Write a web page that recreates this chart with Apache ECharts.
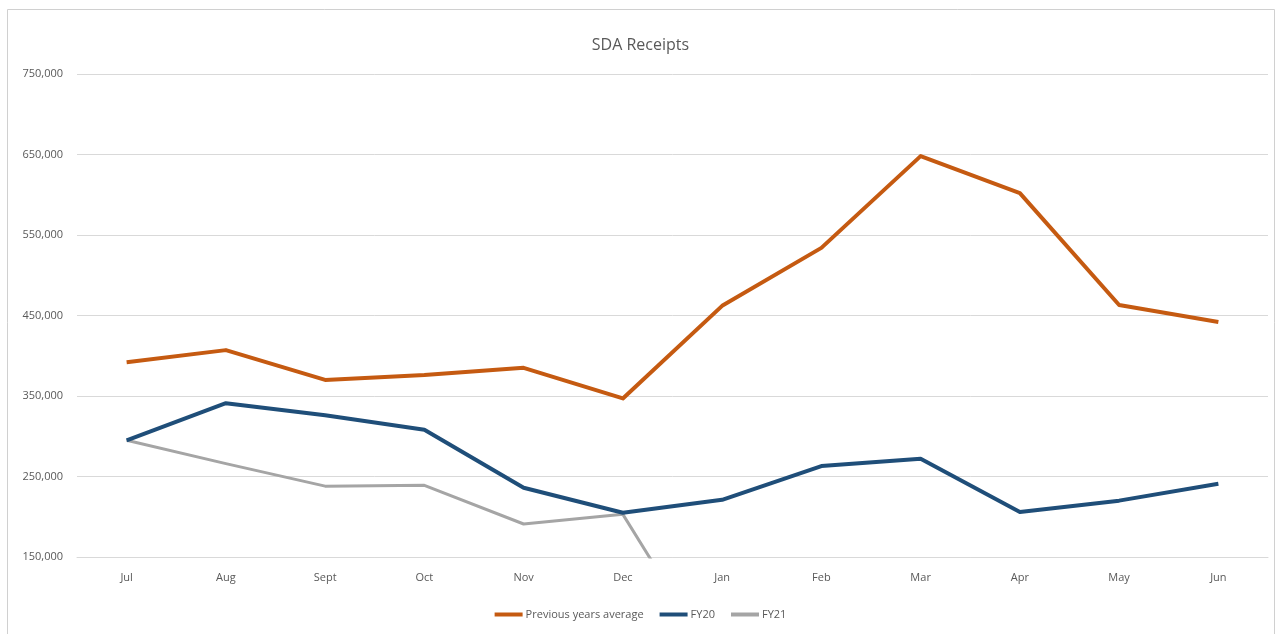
<!DOCTYPE html>
<html>
<head>
<meta charset="utf-8">
<title>SDA Receipts</title>
<script src="https://cdn.jsdelivr.net/npm/echarts@6/dist/echarts.min.js"></script>
<style>
  html, body { margin: 0; padding: 0; background: #fff; }
  #chart { width: 1281px; height: 634px; }
</style>
</head>
<body>
<div id="chart"></div>
<script>
const months = ['Jul', 'Aug', 'Sept', 'Oct', 'Nov', 'Dec', 'Jan', 'Feb', 'Mar', 'Apr', 'May', 'Jun']
const prevAvg = [392000, 407000, 370000, 376000, 385000, 347000, 462000, 534000, 648000, 602000, 463000, 442000]
const fy20 = [295000, 341000, 326000, 308000, 236000, 205000, 221000, 263000, 272000, 206000, 220000, 241000]
// FY21 only runs to Jan, and Jan drops below the axis floor
const fy21 = [295000, 266000, 238000, 239000, 191000, 203000, 4000, null, null, null, null, null]
const seriesNames = ['Previous years average', 'FY20', 'FY21']
const colorList = ['#c55a11', '#1f4e79', '#a5a5a5']

const textColor = '#595959'
const font = 'Open Sans'

const chart = echarts.init(document.getElementById('chart'))

function lineSeries(name, data, index, width) {
  return {
    name: name,
    type: 'line',
    data: data,
    symbol: 'none',
    clip: true,
    connectNulls: false,
    lineStyle: { width: width, color: colorList[index], join: 'round' },
    itemStyle: { color: colorList[index] },
    z: 3 - index
  }
}

chart.setOption({
  backgroundColor: '#fff',
  animation: false,
  color: colorList,
  title: {
    text: 'SDA Receipts',
    left: 'center',
    top: 32,
    textStyle: { color: textColor, fontSize: 16, fontWeight: 'normal', fontFamily: font }
  },
  graphic: [{
    type: 'rect',
    shape: { x: 7.5, y: 9.5, width: 1267, height: 640 },
    style: { fill: 'none', stroke: '#d0d0d0', lineWidth: 1 },
    silent: true
  }],
  legend: {
    bottom: 9,
    left: 'center',
    itemWidth: 28,
    itemHeight: 4,
    itemGap: 16,
    icon: 'rect',
    textStyle: { color: textColor, fontSize: 11, fontFamily: font, padding: [0, 0, 0, -2] },
    data: seriesNames
  },
  grid: {
    left: 77,
    right: 13,
    top: 74,
    bottom: 77,
    containLabel: false
  },
  xAxis: {
    type: 'category',
    data: months,
    boundaryGap: true,
    axisLine: { show: true, lineStyle: { color: '#d9d9d9', width: 1 } },
    axisTick: { show: false },
    axisLabel: { color: textColor, fontSize: 11, fontFamily: font, margin: 15, interval: 0 },
    splitLine: { show: false }
  },
  yAxis: {
    type: 'value',
    min: 150000,
    max: 750000,
    interval: 100000,
    axisLine: { show: false },
    axisTick: { show: false },
    axisLabel: {
      color: textColor,
      fontSize: 11,
      fontFamily: font,
      margin: 14,
      formatter: function (v) { return v.toLocaleString('en-US') }
    },
    splitLine: { lineStyle: { color: '#d9d9d9', width: 1 } }
  },
  series: [
    lineSeries(seriesNames[0], prevAvg, 0, 4),
    lineSeries(seriesNames[1], fy20, 1, 4),
    lineSeries(seriesNames[2], fy21, 2, 3)
  ]
})
</script>
</body>
</html>
